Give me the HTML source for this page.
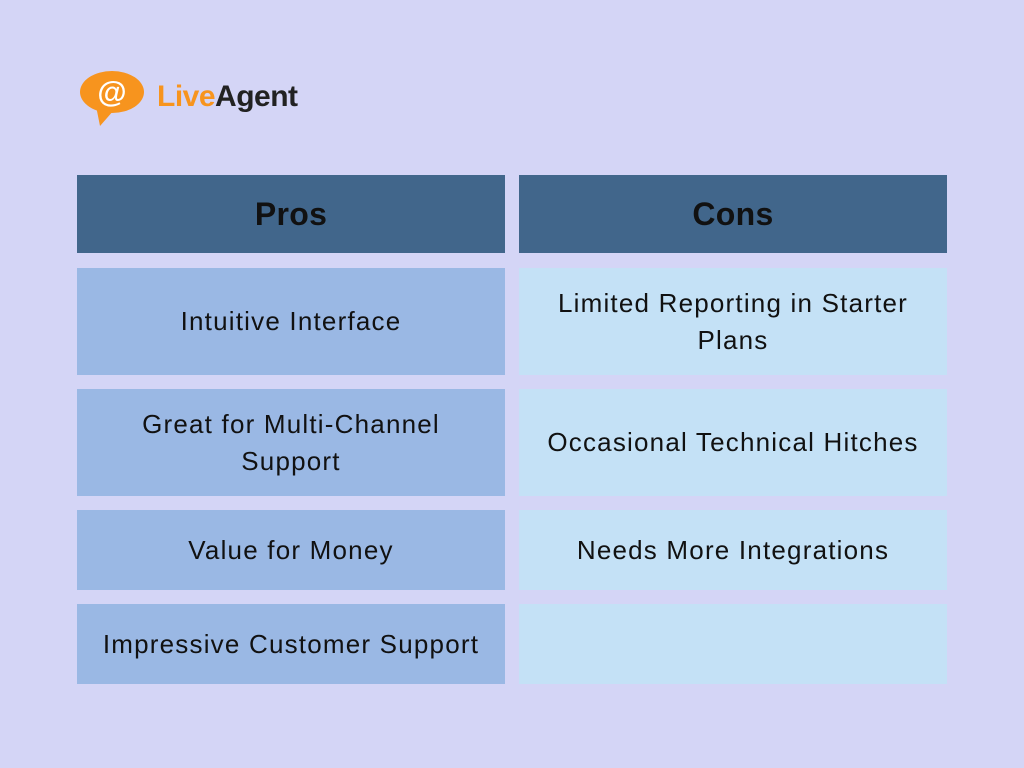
<!DOCTYPE html>
<html><head><style>
body{margin:0;width:1024px;height:768px;background:#d4d5f6;position:relative;font-family:"Liberation Sans",sans-serif;overflow:hidden}
.c{position:absolute;display:flex;align-items:center;justify-content:center;text-align:center;font-size:26px;color:#111;line-height:37px;letter-spacing:1.2px}
.h{background:#41668b;font-weight:bold;font-size:32px;letter-spacing:0.3px}
.p{background:#9ab8e4}
.n{background:#c4e1f6}
</style></head><body>
<svg style="position:absolute;left:78px;top:68px" width="80" height="62">
<ellipse cx="34" cy="24" rx="32" ry="21" fill="#f7941e"/>
<path d="M18 38 L22 58 L36 42 Z" fill="#f7941e"/>
<text x="34" y="34" text-anchor="middle" font-family="Liberation Sans" font-weight="bold" font-size="30" fill="#fff">@</text>
</svg>
<div style="position:absolute;left:157px;top:80px;font-size:30px;font-weight:bold;letter-spacing:-0.5px"><span style="color:#f7941e">Live</span><span style="color:#222">Agent</span></div>
<div class="c h" style="left:77px;top:175px;width:428px;height:78px">Pros</div>
<div class="c h" style="left:519px;top:175px;width:428px;height:78px">Cons</div>
<div class="c p" style="left:77px;top:268px;width:428px;height:107px">Intuitive Interface</div>
<div class="c n" style="left:519px;top:268px;width:428px;height:107px">Limited Reporting in Starter<br>Plans</div>
<div class="c p" style="left:77px;top:389px;width:428px;height:107px">Great for Multi-Channel<br>Support</div>
<div class="c n" style="left:519px;top:389px;width:428px;height:107px">Occasional Technical Hitches</div>
<div class="c p" style="left:77px;top:510px;width:428px;height:80px">Value for Money</div>
<div class="c n" style="left:519px;top:510px;width:428px;height:80px">Needs More Integrations</div>
<div class="c p" style="left:77px;top:604px;width:428px;height:80px">Impressive Customer Support</div>
<div class="c n" style="left:519px;top:604px;width:428px;height:80px"></div>
</body></html>
